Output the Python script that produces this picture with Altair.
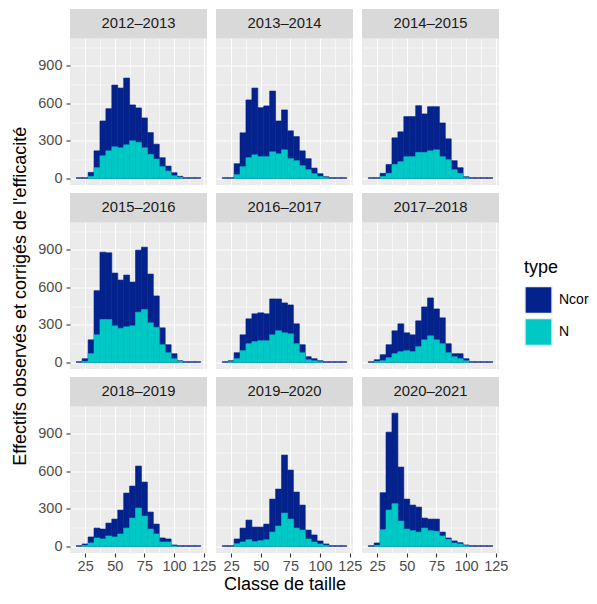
import altair as alt
import pandas as pd

seasons = ["2012–2013", "2013–2014", "2014–2015",
           "2015–2016", "2016–2017", "2017–2018",
           "2018–2019", "2019–2020", "2020–2021"]

sizes = [20, 25, 30, 35, 40, 45, 50, 55, 60, 65, 70, 75, 80, 85, 90, 95, 100, 105, 110, 115, 120]

ncor_2012 = [5, 5, 48, 220, 459, 557, 746, 722, 802, 587, 563, 483, 366, 273, 165, 98, 45, 16, 5, 5, 5]
n_2012 = [0, 0, 16, 85, 180, 220, 252, 244, 268, 300, 287, 244, 191, 154, 93, 58, 21, 8, 0, 0, 0]

ncor_2013 = [5, 5, 117, 364, 627, 722, 565, 579, 698, 459, 547, 380, 334, 220, 157, 82, 37, 13, 5, 5, 5]
n_2013 = [0, 0, 29, 93, 165, 188, 173, 173, 212, 196, 228, 157, 141, 101, 69, 37, 16, 5, 0, 0, 0]

ncor_2014 = [5, 5, 40, 111, 324, 372, 494, 494, 581, 515, 573, 573, 443, 316, 141, 85, 13, 5, 5, 5, 5]
n_2014 = [0, 0, 16, 40, 111, 133, 173, 173, 207, 207, 220, 228, 173, 149, 69, 40, 5, 0, 0, 0, 0]

ncor_2015 = [5, 29, 180, 573, 881, 876, 714, 658, 698, 642, 897, 921, 706, 531, 276, 141, 69, 13, 5, 5, 5]
n_2015 = [0, 8, 69, 220, 342, 342, 292, 271, 284, 292, 401, 422, 316, 279, 141, 77, 29, 8, 0, 0, 0]

ncor_2016 = [5, 13, 77, 220, 348, 388, 396, 388, 507, 507, 475, 459, 308, 141, 45, 29, 13, 5, 5, 5, 5]
n_2016 = [0, 5, 29, 93, 149, 165, 173, 173, 220, 252, 236, 228, 149, 77, 21, 13, 5, 0, 0, 0, 0]

ncor_2017 = [5, 21, 61, 141, 252, 308, 236, 220, 332, 443, 515, 427, 356, 149, 69, 69, 29, 5, 5, 5, 5]
n_2017 = [0, 8, 13, 37, 69, 85, 93, 85, 125, 180, 212, 180, 149, 77, 45, 29, 13, 0, 0, 0, 0]

ncor_2018 = [5, 19, 75, 146, 138, 186, 218, 290, 426, 482, 642, 514, 274, 178, 67, 59, 11, 5, 5, 5, 5]
n_2018 = [0, 8, 27, 67, 59, 83, 75, 99, 146, 226, 306, 242, 138, 99, 35, 35, 3, 0, 0, 0, 0]

ncor_2019 = [5, 5, 59, 146, 210, 154, 154, 178, 378, 458, 730, 610, 434, 330, 130, 91, 43, 19, 5, 5, 5]
n_2019 = [0, 0, 21, 35, 53, 37, 45, 53, 114, 162, 266, 218, 146, 130, 59, 35, 19, 8, 0, 0, 0]

ncor_2020 = [5, 27, 429, 913, 1065, 634, 378, 330, 314, 226, 218, 218, 114, 67, 43, 29, 11, 5, 5, 5, 5]
n_2020 = [0, 8, 133, 290, 341, 202, 138, 125, 114, 146, 125, 120, 83, 56, 27, 19, 5, 0, 0, 0, 0]

ncor_all = [ncor_2012, ncor_2013, ncor_2014, ncor_2015, ncor_2016, ncor_2017, ncor_2018, ncor_2019, ncor_2020]
n_all = [n_2012, n_2013, n_2014, n_2015, n_2016, n_2017, n_2018, n_2019, n_2020]

x_major = [25, 50, 75, 100, 125]
x_minor = [37.5, 62.5, 87.5, 112.5]
y_major = [0, 300, 600, 900]
y_minor = [150, 450, 750, 1050]

x_title = "Classe de taille"
y_title = "Effectifs observés et corrigés de l'efficacité"

W, H = 137, 146.5
STRIP = 29.4
FONT = "Liberation Sans"
C_NCOR = "#03228C"
C_N = "#00C8C5"

ymax = max(max(v) for v in ncor_all)
xscale = alt.Scale(domain=[12.25, 127.75], nice=False, zero=False)
yscale = alt.Scale(domain=[-0.05 * ymax, 1.05 * ymax], nice=False, zero=False)

color = alt.Color(
    "type:N",
    scale=alt.Scale(domain=["Ncor", "N"], range=[C_NCOR, C_N]),
    legend=alt.Legend(
        title="type", titleFontSize=18, titleFont=FONT, titleFontWeight="normal",
        titleColor="black", labelFontSize=14, labelFont=FONT, labelColor="black",
        symbolType="square", symbolSize=740, symbolStrokeColor="#F2F2F2",
        symbolStrokeWidth=1.5, symbolOpacity=1, labelOffset=6, rowPadding=-8,
        titlePadding=9, orient="none", legendX=454, legendY=220,
    ),
)


def make_axis(major, minor, step, labels, title, orient_x):
    common = dict(
        values=sorted(major + minor), grid=True, gridColor="white",
        gridWidth={"condition": {"test": f"datum.value % {step} === 0", "value": 1.1}, "value": 0.55},
        domain=False, labels=labels, ticks=labels,
    )
    if title:
        common.update(title=title, titleFont=FONT, titleFontSize=18, titleFontWeight="normal",
                      titleColor="black", titlePadding=2 if orient_x else 8)
    else:
        common.update(title=None)
    if labels:
        common.update(
            tickOpacity={"condition": {"test": f"datum.value % {step} === 0", "value": 1}, "value": 0},
            labelExpr=f"datum.value % {step} === 0 ? datum.label : ''",
            labelFlush=False, labelOverlap=False, labelBound=False,
            tickColor="#333333", tickSize=4, tickWidth=1.1,
            labelPadding=2.5 if orient_x else 4,
            labelColor="#4D4D4D", labelFontSize=14.5, labelFont=FONT,
        )
    return alt.Axis(**common)


panels = []
for idx, (s, nc, nn) in enumerate(zip(seasons, ncor_all, n_all)):
    r, c = divmod(idx, 3)
    rows = []
    for i, x in enumerate(sizes):
        rows.append({"season": s, "size": x, "type": "Ncor", "value": nc[i]})
        rows.append({"season": s, "size": x, "type": "N", "value": nn[i]})
    d = pd.DataFrame(rows)

    xaxis = make_axis(x_major, x_minor, 25, r == 2, x_title if idx == 7 else None, True)
    yaxis = make_axis(y_major, y_minor, 300, c == 0, y_title if idx == 3 else None, False)

    base = alt.Chart(d).transform_calculate(x0="datum.size - 2.5", x1="datum.size + 2.5")

    bars_ncor = base.mark_rect(stroke=C_NCOR, strokeWidth=0.6).encode(
        x=alt.X("x0:Q", scale=xscale, axis=xaxis),
        x2="x1:Q",
        y=alt.Y("value:Q", scale=yscale, axis=yaxis),
        y2=alt.datum(0),
        color=color,
    ).transform_filter("datum.type === 'Ncor'")

    bars_n = base.mark_rect(stroke=C_N, strokeWidth=0.6).encode(
        x=alt.X("x0:Q", scale=xscale, axis=xaxis),
        x2="x1:Q",
        y=alt.Y("value:Q", scale=yscale, axis=yaxis),
        y2=alt.datum(0),
        color=color,
    ).transform_filter("datum.type === 'N' && datum.value > 0")

    strip = alt.Chart(d).mark_rect(color="#D9D9D9").encode(
        x=alt.value(0), x2=alt.value(W), y=alt.value(-STRIP), y2=alt.value(0)
    ).transform_filter("datum.size === 20 && datum.type === 'Ncor'")

    strip_text = alt.Chart(d).mark_text(
        font=FONT, fontSize=14.8, color="#1A1A1A", align="center", baseline="middle"
    ).encode(
        x=alt.value(W / 2), y=alt.value(-STRIP / 2 + 0.5), text="season:N"
    ).transform_filter("datum.size === 20 && datum.type === 'Ncor'")

    panels.append(alt.layer(strip, bars_ncor, bars_n, strip_text).properties(width=W, height=H))

chart = alt.concat(*panels, columns=3, spacing={"row": 37, "column": 9}, bounds="flush").properties(
    padding={"left": 3, "top": 0.5, "right": 0, "bottom": 0},
).configure_view(fill="#EBEBEB", stroke=None)

chart.save("out.html", embed_options={"renderer": "svg", "actions": False})
